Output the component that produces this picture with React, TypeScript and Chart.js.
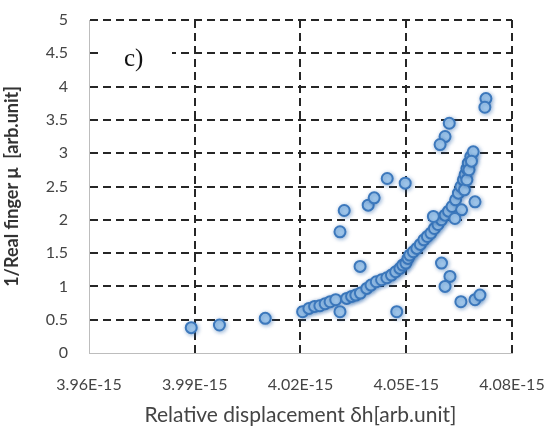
import React, { useEffect, useRef } from "react";
import { Chart, registerables } from "chart.js";

Chart.register(...registerables);

// x values are in units of 1e-15 (labels are shown as "x.xxE-15")
const xValues: number[] = [
  3.989, 3.997, 4.010,
  4.0206, 4.0224, 4.0240, 4.0255, 4.0270, 4.0284, 4.0300, 4.0331, 4.0345, 4.0357,
  4.0370, 4.0388, 4.0400, 4.0415, 4.0430, 4.0445, 4.0458, 4.0470, 4.0482, 4.0490,
  4.0499, 4.0505, 4.0510, 4.0520, 4.0530, 4.0540, 4.0550, 4.0560, 4.0570, 4.0580,
  4.0590, 4.0600, 4.0610, 4.0620, 4.0630, 4.0640, 4.0648, 4.0655, 4.0662, 4.0667,
  4.0672, 4.0676, 4.0683, 4.0690,
  4.0665, 4.0672, 4.0678, 4.0685,
  4.0312, 4.0312, 4.0324, 4.0369, 4.0392, 4.0409, 4.0446, 4.0497, 4.0473, 4.0600,
  4.0624, 4.0610, 4.0655, 4.0695, 4.0709, 4.0695, 4.0657, 4.0638, 4.0577, 4.0726,
  4.0723, 4.0622, 4.0610, 4.0596,
];
const yValues: number[] = [
  0.38, 0.42, 0.52,
  0.62, 0.67, 0.70, 0.71, 0.74, 0.77, 0.80, 0.82, 0.85, 0.87,
  0.90, 0.97, 1.02, 1.07, 1.10, 1.13, 1.17, 1.22, 1.27, 1.32,
  1.35, 1.42, 1.47, 1.52, 1.57, 1.63, 1.70, 1.75, 1.80, 1.87,
  1.93, 2.00, 2.07, 2.13, 2.20, 2.30, 2.40, 2.50, 2.60, 2.68,
  2.77, 2.85, 2.95, 3.02,
  2.45, 2.60, 2.75, 2.88,
  0.62, 1.82, 2.14, 1.30, 2.22, 2.33, 2.62, 2.55, 0.62, 1.35,
  1.15, 1.00, 0.77, 0.80, 0.87, 2.27, 2.15, 2.02, 2.05, 3.82,
  3.69, 3.45, 3.25, 3.13,
];

const xTickMin = 3.96;
const xTickMax = 4.08;
const xTickStep = 0.03;
const yTickMin = 0;
const yTickMax = 5;
const yTickStep = 0.5;

const xTitle = "Relative displacement δh[arb.unit]";
const yTitle = "1/Real finger μ  [arb.unit]";
const panelLabel = "c)";

const panelLabelPlugin = {
  id: "panelLabel",
  afterDraw(chart: any) {
    const { ctx } = chart;
    ctx.save();
    ctx.fillStyle = "#ffffff";
    ctx.fillRect(100, 36, 72, 36);
    ctx.fillStyle = "#111111";
    ctx.font = "25px 'Liberation Serif', 'DejaVu Serif', serif";
    ctx.textBaseline = "alphabetic";
    ctx.textAlign = "left";
    ctx.fillText(panelLabel, 124, 66);
    ctx.restore();
  },
};

const shadowPlugin = {
  id: "pointShadow",
  beforeDatasetsDraw(chart: any) {
    const ctx = chart.ctx;
    ctx.save();
    ctx.shadowColor = "rgba(40,100,170,0.45)";
    ctx.shadowBlur = 4;
    ctx.shadowOffsetX = 1;
    ctx.shadowOffsetY = 1;
  },
  afterDatasetsDraw(chart: any) {
    chart.ctx.restore();
  },
};

export default function App() {
  const canvasRef = useRef<HTMLCanvasElement | null>(null);

  useEffect(() => {
    document.body.style.margin = "0";
    const canvas = canvasRef.current;
    if (!canvas) return;
    const data = xValues.map((x, i) => ({ x, y: yValues[i] }));
    const gridColor = (c: any) => (c.index === 0 ? "rgba(0,0,0,0)" : "#262626");
    const tickFont = { family: "Lato, 'Open Sans', sans-serif", size: 16 };
    const chart = new Chart(canvas, {
      type: "scatter",
      data: {
        datasets: [
          {
            data,
            pointRadius: 5.5,
            pointHoverRadius: 5.5,
            pointBackgroundColor: "rgb(165,202,236)",
            pointBorderColor: "rgb(60,120,188)",
            pointBorderWidth: 2,
          },
        ],
      },
      options: {
        responsive: false,
        animation: false,
        events: [],
        layout: { padding: { top: 20, right: 41, left: 0, bottom: 0 } },
        plugins: { legend: { display: false }, tooltip: { enabled: false } },
        scales: {
          x: {
            type: "linear",
            min: xTickMin,
            max: xTickMax,
            afterFit: (s: any) => {
              s.height = 75;
              s.paddingLeft = 0;
              s.paddingRight = 0;
            },
            ticks: {
              stepSize: xTickStep,
              color: "#444",
              font: tickFont,
              padding: 22,
              maxRotation: 0,
              callback: (v: any) => Number(v).toFixed(2) + "E-15",
            },
            grid: { color: gridColor, lineWidth: 2, drawTicks: false },
            border: { display: true, color: "#bdbdbd", width: 1, dash: [8, 5] },
            title: {
              display: true,
              text: xTitle,
              color: "#444",
              font: { family: "Lato, 'Open Sans', sans-serif", size: 21 },
              padding: { top: 0, bottom: 0 },
            },
          },
          y: {
            type: "linear",
            min: yTickMin,
            max: yTickMax,
            afterFit: (s: any) => {
              s.width = 89;
              s.paddingTop = 0;
              s.paddingBottom = 0;
            },
            ticks: {
              stepSize: yTickStep,
              color: "#444",
              font: tickFont,
              padding: 21,
              callback: (v: any) => String(Number(Number(v).toFixed(1))),
            },
            grid: { color: gridColor, lineWidth: 2, drawTicks: false },
            border: { display: true, color: "#bdbdbd", width: 1, dash: [8, 5] },
            title: {
              display: true,
              text: yTitle,
              color: "#333",
              font: { family: "Lato, 'Open Sans', sans-serif", size: 18, weight: "bold" },
              padding: { top: 1, bottom: 0 },
            },
          },
        },
      },
      plugins: [shadowPlugin, panelLabelPlugin],
    });
    return () => chart.destroy();
  }, []);

  return (
    <div style={{ width: 553, height: 428 }}>
      <canvas ref={canvasRef} width={553} height={428} />
    </div>
  );
}
